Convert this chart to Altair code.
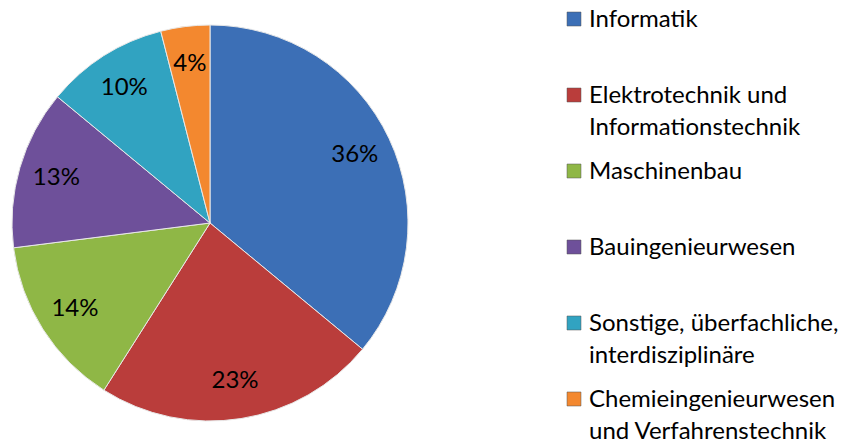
import altair as alt
import pandas as pd

categories = [
    "Informatik",
    "Elektrotechnik und\nInformationstechnik",
    "Maschinenbau",
    "Bauingenieurwesen",
    "Sonstige, überfachliche,\ninterdisziplinäre",
    "Chemieingenieurwesen\nund Verfahrenstechnik",
]
shares = [36, 23, 14, 13, 10, 4]
colors = ["#3C6FB6", "#BA3D3B", "#8FB746", "#6E509A", "#31A3C1", "#F3882F"]

df = pd.DataFrame({
    "cat": categories,
    "share": shares,
    "order": list(range(len(categories))),
    "label": [f"{v}%" for v in shares],
})

FONT = "Lato"

color_scale = alt.Scale(domain=categories, range=colors)

base = alt.Chart(df).encode(
    theta=alt.Theta("share:Q", stack=True),
    order=alt.Order("order:Q"),
)

pie = base.mark_arc(outerRadius=198, stroke="#e8e8e8", strokeWidth=1).encode(
    color=alt.Color("cat:N", scale=color_scale, legend=None),
)

pie_labels = base.mark_text(radius=160, fontSize=24, font=FONT, color="black").encode(
    text="label:N",
)

pie_chart = (pie + pie_labels).properties(width=404, height=430)

legend_y = alt.Y(
    "cat:N",
    sort=categories,
    scale=alt.Scale(type="point", padding=0.145),
    axis=None,
)

legend_sym = alt.Chart(df).mark_square(
    size=196, opacity=1, filled=True, stroke="#555", strokeWidth=0.5
).encode(
    x=alt.value(14),
    y=legend_y,
    color=alt.Color("cat:N", scale=color_scale, legend=None),
)

legend_txt = alt.Chart(df).mark_text(
    align="left", baseline="alphabetic", dy=8, fontSize=24, font=FONT,
    lineBreak="\n", lineHeight=32, color="black",
).encode(
    x=alt.value(29),
    y=legend_y,
    text="cat:N",
)

legend_chart = (legend_sym + legend_txt).properties(width=260, height=402)

chart = alt.hconcat(pie_chart, legend_chart, spacing=148).properties(
    padding=0
).configure_view(stroke=None)

chart.save("out.html", embed_options={"renderer": "svg", "actions": False})
